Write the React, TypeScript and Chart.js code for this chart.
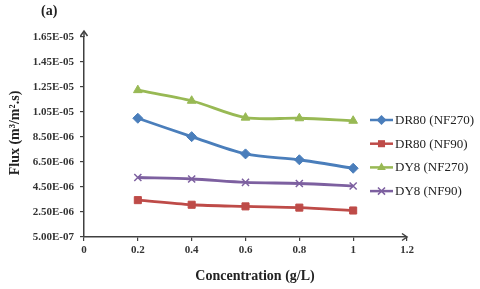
import React, { useEffect, useRef } from "react";
import { Chart, registerables } from "chart.js";

Chart.register(...registerables);

const concentrations = [0.2, 0.4, 0.6, 0.8, 1.0];
const dr80Nf270 = [1.0e-5, 8.53e-6, 7.15e-6, 6.68e-6, 6.0e-6];
const dr80Nf90 = [3.45e-6, 3.08e-6, 2.95e-6, 2.85e-6, 2.62e-6];
const dy8Nf270 = [1.225e-5, 1.14e-5, 1.005e-5, 1.0e-5, 9.8e-6];
const dy8Nf90 = [5.26e-6, 5.14e-6, 4.87e-6, 4.78e-6, 4.58e-6];
const yTickValues = [5.0e-7, 2.5e-6, 4.5e-6, 6.5e-6, 8.5e-6, 1.05e-5, 1.25e-5, 1.45e-5, 1.65e-5];
const xTickValues = [0, 0.2, 0.4, 0.6, 0.8, 1.0, 1.2];
const seriesLabels = ["DR80 (NF270)", "DR80 (NF90)", "DY8 (NF270)", "DY8 (NF90)"];

const colors = ["#4A7EBB", "#BE4B48", "#98B954", "#7D60A0"];
const styles = ["rectRot", "rect", "triangle", "crossRot"];
const radii = [5, 5, 5, 5];

const fmtExp = (v: number) => {
  const s = v.toExponential(2);
  const [m, e] = s.split("e");
  const sign = e[0] === "-" ? "-" : "+";
  const digits = e.replace(/[+-]/, "").padStart(2, "0");
  return `${m}E${sign}${digits}`;
};

const AXIS = "#404040";

function drawMarker(ctx: CanvasRenderingContext2D, style: string, x: number, y: number, r: number, color: string) {
  ctx.save();
  ctx.fillStyle = color;
  ctx.strokeStyle = color;
  ctx.lineWidth = 1.5;
  ctx.beginPath();
  if (style === "rectRot") {
    ctx.moveTo(x, y - r);
    ctx.lineTo(x + r, y);
    ctx.lineTo(x, y + r);
    ctx.lineTo(x - r, y);
    ctx.closePath();
    ctx.fill();
  } else if (style === "rect") {
    const s = r * Math.SQRT1_2;
    ctx.rect(x - s, y - s, 2 * s, 2 * s);
    ctx.fill();
  } else if (style === "triangle") {
    ctx.moveTo(x, y - r);
    ctx.lineTo(x + r * 0.87, y + r * 0.5);
    ctx.lineTo(x - r * 0.87, y + r * 0.5);
    ctx.closePath();
    ctx.fill();
  } else {
    const s = r * Math.SQRT1_2;
    ctx.moveTo(x - s, y - s);
    ctx.lineTo(x + s, y + s);
    ctx.moveTo(x + s, y - s);
    ctx.lineTo(x - s, y + s);
    ctx.stroke();
  }
  ctx.restore();
}

const extrasPlugin = {
  id: "extras",
  afterDraw(chart: any) {
    const ctx = chart.ctx;
    const xs = chart.scales.x;
    const ys = chart.scales.y;
    const x0 = xs.left;
    const yb = ys.bottom;
    const yt = ys.top;
    const xr = xs.right;
    ctx.save();
    ctx.strokeStyle = AXIS;
    ctx.lineWidth = 1.5;
    ctx.beginPath();
    ctx.moveTo(x0, yt);
    ctx.lineTo(x0, yt - 6);
    ctx.stroke();
    ctx.beginPath();
    ctx.moveTo(x0 - 3.5, yt - 1);
    ctx.lineTo(x0, yt - 6);
    ctx.lineTo(x0 + 3.5, yt - 1);
    ctx.stroke();
    ctx.beginPath();
    ctx.moveTo(xr - 5, yb - 3.5);
    ctx.lineTo(xr, yb);
    ctx.lineTo(xr - 5, yb + 3.5);
    ctx.stroke();
    ctx.fillStyle = "#222";
    ctx.font = "bold 14px 'Liberation Serif', serif";
    ctx.textAlign = "left";
    ctx.textBaseline = "middle";
    ctx.fillText("(a)", 41, 11);
    // axis titles
    ctx.font = "bold 14px 'Liberation Serif', serif";
    ctx.textAlign = "center";
    ctx.fillText("Concentration (g/L)", 255, 276);
    ctx.save();
    ctx.translate(15, 133);
    ctx.rotate(-Math.PI / 2);
    ctx.fillText("Flux (m³/m².s)", 0, 0);
    ctx.restore();
    // legend
    const lx0 = 370;
    const lx1 = 393;
    const startY = 120;
    const step = 23.7;
    chart.data.datasets.forEach((ds: any, i: number) => {
      const cy = startY + i * step;
      ctx.strokeStyle = ds.borderColor;
      ctx.lineWidth = 2.5;
      ctx.beginPath();
      ctx.moveTo(lx0, cy);
      ctx.lineTo(lx1, cy);
      ctx.stroke();
      drawMarker(ctx, ds.pointStyle, (lx0 + lx1) / 2, cy, ds.pointRadius, ds.borderColor);
      ctx.fillStyle = "#222";
      ctx.font = "13px 'Liberation Serif', serif";
      ctx.textAlign = "left";
      ctx.textBaseline = "middle";
      ctx.fillText(ds.label, 395, cy + 0.5);
    });
    ctx.restore();
  },
};

export default function App() {
  const ref = useRef<HTMLCanvasElement | null>(null);
  useEffect(() => {
    document.body.style.margin = "0";
    if (!ref.current) return;
    const seriesValues = [dr80Nf270, dr80Nf90, dy8Nf270, dy8Nf90];
    const chart = new Chart(ref.current, {
      type: "line",
      data: {
        datasets: seriesValues.map((vals, i) => ({
          label: seriesLabels[i],
          data: concentrations.map((c, j) => ({ x: c, y: vals[j] })),
          borderColor: colors[i],
          backgroundColor: colors[i],
          pointBackgroundColor: colors[i],
          pointBorderColor: colors[i],
          pointStyle: styles[i] as any,
          pointRadius: radii[i],
          pointBorderWidth: styles[i] === "crossRot" ? 1.5 : 1,
          borderWidth: 2.8,
          tension: 0.3,
          fill: false,
        })),
      },
      options: {
        animation: false,
        responsive: false,
        maintainAspectRatio: false,
        layout: { padding: { left: 0, right: 73, top: 37, bottom: 0 } },
        plugins: {
          legend: { display: false },
          tooltip: { enabled: false },
          title: { display: false },
        },
        scales: {
          x: {
            type: "linear",
            min: 0,
            max: 1.2,
            afterBuildTicks: (scale: any) => {
              scale.ticks = xTickValues.map((v) => ({ value: v }));
            },
            afterFit: (scale: any) => {
              scale.height = 52;
            },
            ticks: {
              color: "#333",
              font: { family: "'Liberation Serif', serif", size: 11, weight: "bold" },
              padding: 3,
              maxRotation: 0,
              callback: (v: any) => String(Math.round(Number(v) * 10) / 10),
            },
            grid: {
              display: true,
              drawOnChartArea: false,
              drawTicks: true,
              tickLength: 4,
              color: AXIS,
              lineWidth: 1.2,
            },
            border: { display: true, color: AXIS, width: 1.5 },
            title: { display: false },
          },
          y: {
            type: "linear",
            min: 5.0e-7,
            max: 1.65e-5,
            afterBuildTicks: (scale: any) => {
              scale.ticks = yTickValues.map((v) => ({ value: v }));
            },
            afterFit: (scale: any) => {
              scale.width = 84;
            },
            ticks: {
              color: "#333",
              font: { family: "'Liberation Serif', serif", size: 11, weight: "bold" },
              padding: 6,
              callback: (v: any) => fmtExp(Number(v)),
            },
            grid: {
              display: true,
              drawOnChartArea: false,
              drawTicks: true,
              tickLength: 4,
              color: AXIS,
              lineWidth: 1.2,
            },
            border: { display: true, color: AXIS, width: 1.5 },
            title: { display: false },
          },
        },
      },
      plugins: [extrasPlugin],
    });
    return () => chart.destroy();
  }, []);
  return (
    <div style={{ width: 480, height: 289, background: "#fff" }}>
      <canvas ref={ref} width={480} height={289} style={{ display: "block" }} />
    </div>
  );
}
